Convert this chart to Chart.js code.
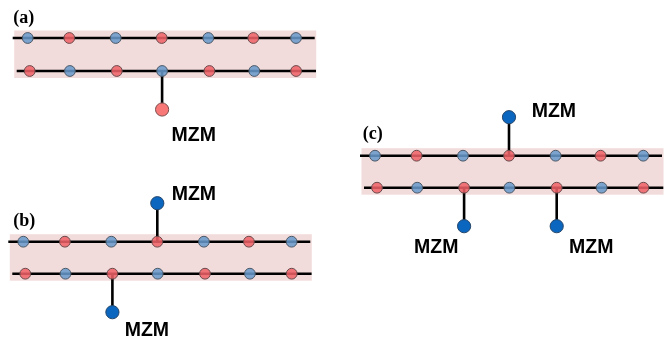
<!DOCTYPE html>
<html>
<head>
<meta charset="utf-8">
<script src="https://cdn.jsdelivr.net/npm/chart.js@4/dist/chart.umd.min.js"></script>
<style>
  html, body { margin: 0; padding: 0; background: #ffffff; }
  #wrap { width: 669px; height: 341px; }
</style>
</head>
<body>
<div id="wrap"><canvas id="c" width="669" height="341"></canvas></div>
<script>
// ---- diagram content ----
const panelLabels = ['(a)', '(b)', '(c)'];
// site species along each chain (same pattern in every panel)
const upperChain = ['blue', 'red', 'blue', 'red', 'blue', 'red', 'blue'];
const lowerChain = ['red', 'blue', 'red', 'blue', 'red', 'blue', 'red'];
// MZM couplers: which panel, which chain, which site
const mzmPanel = [0, 1, 1, 2, 2, 2];
const mzmChain = ['lower', 'upper', 'lower', 'upper', 'lower', 'lower'];
const mzmSite = [3, 3, 2, 3, 2, 4];
const mzmKind = ['red', 'blue', 'blue', 'blue', 'blue', 'blue'];
const mzmText = ['MZM', 'MZM', 'MZM', 'MZM', 'MZM', 'MZM'];

// ---- layout (canvas units) ----
const panelOrigin = [
  { x: 27.7, upper: 38.0, lower: 71.0, labelX: 13.3, labelY: 18.5 },
  { x: 23.3, upper: 241.7, lower: 273.7, labelX: 13.3, labelY: 221.0 },
  { x: 375.0, upper: 155.7, lower: 187.7, labelX: 362.7, labelY: 134.3 }
];
const upperOffsets = [0, 41.6, 88.0, 134.0, 180.6, 225.6, 268.3];
const lowerOffsets = [2.0, 42.2, 89.1, 134.4, 181.7, 226.6, 268.4];
const stemLength = 38.5;
// label placement relative to the coupler bead (left edge, baseline)
const mzmTextOffset = [
  { dx: 9.4, dy: 31.7 },
  { dx: 14.4, dy: -3.4 },
  { dx: 12.3, dy: 23.7 },
  { dx: 22.7, dy: -0.7 },
  { dx: -50.0, dy: 26.6 },
  { dx: 12.3, dy: 26.6 }
];

const siteFill = { red: 'rgba(240,98,104,0.86)', blue: 'rgba(104,154,204,0.86)' };
const siteEdge = { red: '#6b4a4c', blue: '#4b5866' };
const beadFill = { red: '#F87777', blue: '#0A66BE' };
const beadEdge = { red: '#7d5050', blue: '#27476b' };
const bandColor = '#F2DCDB';

// ---- build datasets ----
const datasets = [];

// site beads (drawn on top)
panelOrigin.forEach((p) => {
  [['upper', upperChain, upperOffsets], ['lower', lowerChain, lowerOffsets]].forEach(([row, chain, offs]) => {
    datasets.push({
      type: 'scatter',
      order: 0,
      clip: false,
      data: chain.map((_, i) => ({ x: p.x + offs[i], y: p[row] })),
      pointRadius: 5.4,
      pointBorderWidth: 1,
      pointBackgroundColor: chain.map(s => siteFill[s]),
      pointBorderColor: chain.map(s => siteEdge[s]),
      showLine: false
    });
  });
});

// MZM beads and stems
mzmPanel.forEach((pi, k) => {
  const p = panelOrigin[pi];
  const row = mzmChain[k];
  const offs = row === 'upper' ? upperOffsets : lowerOffsets;
  const sx = p.x + offs[mzmSite[k]];
  const sy = p[row];
  const by = row === 'upper' ? sy - stemLength : sy + stemLength;
  datasets.push({
    type: 'scatter',
    order: 0,
    clip: false,
    data: [{ x: sx, y: by }],
    pointRadius: 6.6,
    pointBorderWidth: 1,
    pointBackgroundColor: beadFill[mzmKind[k]],
    pointBorderColor: beadEdge[mzmKind[k]],
    showLine: false
  });
  datasets.push({
    type: 'scatter',
    order: 2,
    clip: false,
    data: [{ x: sx, y: sy }, { x: sx, y: by }],
    showLine: true,
    borderColor: '#000000',
    borderWidth: 2.6,
    pointRadius: 0,
    fill: false
  });
});

// chain lines
panelOrigin.forEach((p) => {
  datasets.push({
    type: 'scatter', order: 3, clip: false, showLine: true, pointRadius: 0,
    borderColor: '#000000', borderWidth: 2.4, fill: false,
    data: [{ x: p.x - 15, y: p.upper }, { x: p.x + 287, y: p.upper }]
  });
  datasets.push({
    type: 'scatter', order: 3, clip: false, showLine: true, pointRadius: 0,
    borderColor: '#000000', borderWidth: 2.4, fill: false,
    data: [{ x: p.x - 11, y: p.lower }, { x: p.x + 288.3, y: p.lower }]
  });
});

// pink bands behind each ladder
const bandPlugin = {
  id: 'bands',
  beforeDatasetsDraw(chart) {
    const { ctx, scales: { x, y } } = chart;
    ctx.save();
    ctx.fillStyle = bandColor;
    panelOrigin.forEach((p) => {
      const x0 = x.getPixelForValue(p.x - 13.5);
      const x1 = x.getPixelForValue(p.x + 288.5);
      const y0 = y.getPixelForValue(p.upper - 7.5);
      const y1 = y.getPixelForValue(p.lower + 7.0);
      ctx.fillRect(x0, y0, x1 - x0, y1 - y0);
    });
    ctx.restore();
  }
};

// panel tags and coupler labels
const textPlugin = {
  id: 'texts',
  afterDatasetsDraw(chart) {
    const { ctx, scales: { x, y } } = chart;
    ctx.save();
    ctx.fillStyle = '#000000';
    ctx.font = 'bold 18px "Liberation Serif", "Times New Roman", serif';
    ctx.textBaseline = 'middle';
    ctx.textAlign = 'left';
    panelOrigin.forEach((p, i) => {
      ctx.fillText(panelLabels[i], x.getPixelForValue(p.labelX), y.getPixelForValue(p.labelY));
    });
    ctx.font = 'bold 19.5px "Liberation Sans", Arial, sans-serif';
    ctx.textBaseline = 'alphabetic';
    mzmPanel.forEach((pi, k) => {
      const p = panelOrigin[pi];
      const row = mzmChain[k];
      const offs = row === 'upper' ? upperOffsets : lowerOffsets;
      const sx = p.x + offs[mzmSite[k]];
      const by = row === 'upper' ? p[row] - stemLength : p[row] + stemLength;
      ctx.fillText(mzmText[k], x.getPixelForValue(sx + mzmTextOffset[k].dx), y.getPixelForValue(by + mzmTextOffset[k].dy));
    });
    ctx.restore();
  }
};

new Chart(document.getElementById('c'), {
  type: 'scatter',
  data: { datasets },
  options: {
    responsive: false,
    animation: false,
    layout: { padding: 0, autoPadding: false },
    scales: {
      x: { type: 'linear', min: 0, max: 669, display: false },
      y: { type: 'linear', min: 0, max: 341, reverse: true, display: false }
    },
    plugins: { legend: { display: false }, tooltip: { enabled: false } },
    elements: { line: { tension: 0 } }
  },
  plugins: [bandPlugin, textPlugin]
});
</script>
</body>
</html>
